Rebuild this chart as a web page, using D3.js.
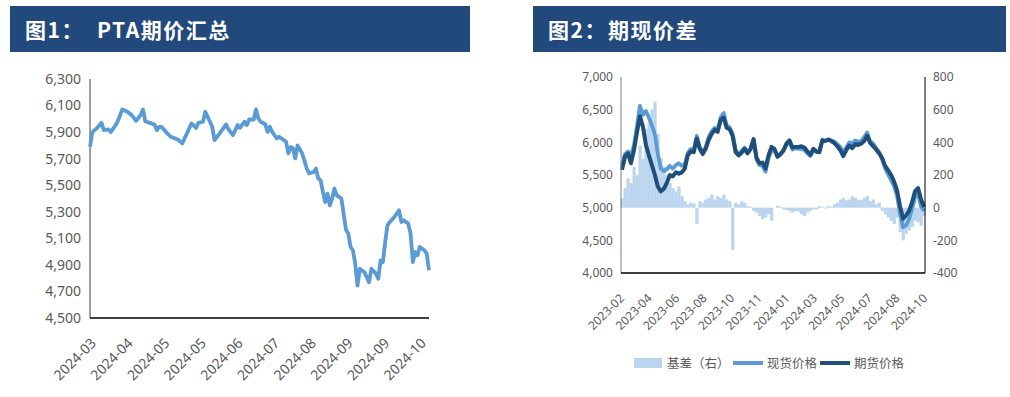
<html>
<head>
<meta charset="utf-8">
<title>PTA</title>
<style>
    body { margin: 0; background: #fff; }
    .tick-label { font-family: "Noto Sans", sans-serif; fill: #595959; }
    .cjk { font-family: "Noto Sans CJK SC", sans-serif; }
</style>
<script src="https://cdn.jsdelivr.net/npm/d3@7"></script>
</head>
<body>
<div id="main"></div>
<script>
// ---- chart 1: PTA futures price (trading-day index, price)
let ptaDays = [0, 1, 3, 5, 6, 8, 9, 11, 12, 14, 16, 18, 20, 22, 23, 24, 26, 28, 29, 30,
    31, 33, 35, 37, 38, 40, 42, 44, 46, 47, 49, 50, 52, 53, 54, 56, 59, 60, 62, 64,
    65, 67, 68, 69, 71, 72, 73, 74, 76, 77, 78, 79, 81, 82, 85, 86, 87, 88, 89, 90,
    92, 94, 95, 97, 98, 99, 100, 101, 102, 103, 104, 105, 106, 107, 109, 111, 112, 113, 114, 115,
    116, 117, 119, 120, 121, 122, 124, 125, 126, 127, 128, 129, 130, 132, 134, 135, 136, 138, 139, 140,
    141, 142, 143, 145, 146, 147]
let ptaPrices = [5790, 5900, 5930, 5970, 5915, 5920, 5900, 5950, 5980, 6070, 6055, 6030, 5985, 6030, 6070, 5980, 5970, 5955, 5915, 5940,
    5940, 5900, 5865, 5852, 5845, 5815, 5890, 5965, 5932, 5970, 5978, 6053, 5978, 5940, 5840, 5885, 5958, 5923, 5877, 5953,
    5932, 5978, 5953, 5995, 5995, 6071, 6003, 5978, 5960, 5902, 5940, 5902, 5852, 5865, 5827, 5740, 5787, 5778, 5702, 5800,
    5740, 5626, 5588, 5600, 5626, 5550, 5537, 5450, 5374, 5437, 5349, 5400, 5475, 5424, 5400, 5165, 5136, 5035, 5010, 4910,
    4745, 4871, 4845, 4808, 4770, 4871, 4834, 4796, 4934, 4921, 5072, 5198, 5223, 5261, 5311, 5223, 5236, 5211, 5136, 4921,
    4997, 4972, 5035, 5010, 4985, 4860]
let ptaTotalDays = 147
let ptaMonthLabels = ["2024-03", "2024-04", "2024-05", "2024-05", "2024-06", "2024-07", "2024-08", "2024-09", "2024-09", "2024-10"]
let ptaYTicks = [4500, 4700, 4900, 5100, 5300, 5500, 5700, 5900, 6100, 6300]

// ---- chart 2: spot / futures / basis (evenly spaced samples)
let futuresPrice = [5580, 5780, 5830, 5680, 5880, 6150, 6400, 6240, 5960, 5800,
    5650, 5500, 5320, 5250, 5290, 5380, 5500, 5480, 5540, 5520,
    5540, 5600, 5800, 5860, 5850, 6060, 5900, 5820, 5900, 6040,
    6130, 6190, 6160, 6340, 6380, 6220, 6200, 6100, 5850, 5800,
    5840, 5900, 5830, 5900, 6050, 5760, 5680, 5690, 5600, 5800,
    5930, 5900, 5780, 5820, 5880, 5980, 6030, 5920, 5930, 5930,
    5940, 5920, 5860, 5810, 5900, 5860, 5850, 6030, 6020, 6040,
    6020, 5990, 5940, 5880, 5790, 5880, 5950, 5910, 5970, 5960,
    5980, 6020, 6100, 5990, 5940, 5890, 5830, 5760, 5640, 5570,
    5500, 5400, 5260, 5020, 4830, 4880, 4950, 5080, 5250, 5300,
    5130, 5010]
let spotPrice = [5650, 5820, 5860, 5800, 5950, 6250, 6560, 6420, 6480, 6380,
    6260, 6120, 5820, 5600, 5560, 5590, 5640, 5600, 5650, 5680,
    5640, 5660, 5840, 5900, 5880, 6100, 5930, 5850, 5930, 6080,
    6170, 6220, 6200, 6380, 6450, 6260, 6230, 6130, 5880, 5830,
    5870, 5920, 5850, 5900, 6040, 5740, 5650, 5640, 5550, 5760,
    5870, 5880, 5780, 5810, 5870, 5960, 6010, 5890, 5910, 5900,
    5900, 5880, 5830, 5790, 5890, 5850, 5860, 6040, 6020, 6050,
    6030, 6010, 5970, 5930, 5850, 5920, 6000, 5980, 6030, 6010,
    6020, 6080, 6150, 6020, 5980, 5910, 5850, 5740, 5600, 5510,
    5420, 5330, 5180, 4900, 4700, 4730, 4820, 4980, 5160, 5210,
    5020, 4950]
let basisValues = [60, 120, 180, 150, 250, 200, 380, 300, 480, 520,
    600, 650, 450, 300, 250, 200, 150, 120, 100, 130,
    70, 40, 20, 30, 25, -100, 40, 30, 50, 60,
    80, 50, 70, 60, 80, 50, 40, -260, 30, 20,
    40, 30, 10, 5, -20, -30, -50, -70, -60, -40,
    -80, 0, 10, 5, -10, -15, -20, -30, -20, -25,
    -40, -50, -30, -20, -10, -10, 10, 5, -5, 10,
    5, 20, 30, 50, 60, 45, 50, 70, 60, 50,
    45, 60, 70, 40, 50, 20, 30, -20, -40, -60,
    -80, -100, -60, -150, -200, -160, -140, -120, -80, -90,
    -110, -50]
let basisMonthLabels = ["2023-02", "2023-04", "2023-06", "2023-08", "2023-10", "2023-11",
    "2024-01", "2024-03", "2024-05", "2024-07", "2024-08", "2024-10"]
let priceTicks = [4000, 4500, 5000, 5500, 6000, 6500, 7000]
let basisTicks = [-400, -200, 0, 200, 400, 600, 800]
let legendNames = ["基差（右）", "现货价格", "期货价格"]

const HEADER = "#21497c"
const LIGHT = "#5b9bd5"
const DARK = "#1f4e79"
const BASIS = "#bcd5ee"

let svg = d3.select("#main").append("svg")
    .attr("width", 1010)
    .attr("height", 397)

function drawHeader(x0, x1, parts) {
    svg.append("rect")
        .attr("x", x0).attr("y", 6)
        .attr("width", x1 - x0).attr("height", 46)
        .attr("fill", HEADER)
    parts.forEach(p => {
        svg.append("text")
            .attr("class", "cjk")
            .attr("x", p.x).attr("y", 38)
            .attr("fill", "#fff")
            .attr("font-size", 21)
            .attr("font-weight", "bold")
            .attr("letter-spacing", 1.5)
            .text(p.t)
    })
}

function drawLeftChart() {
    let left = 90, right = 429, top = 79, bottom = 318
    let x = d3.scaleLinear().domain([0, ptaTotalDays]).range([left, right])
    let y = d3.scaleLinear().domain([4500, 6300]).range([bottom, top])
    let g = svg.append("g")

    g.append("line").attr("x1", left).attr("x2", left).attr("y1", top).attr("y2", bottom)
        .attr("stroke", "#404040").attr("stroke-width", 1)
    g.append("line").attr("x1", left).attr("x2", right).attr("y1", bottom).attr("y2", bottom)
        .attr("stroke", "#000").attr("stroke-width", 1.5)

    g.selectAll(".ylab").data(ptaYTicks).enter().append("text")
        .attr("class", "tick-label")
        .attr("x", 81).attr("y", d => y(d))
        .attr("dy", "0.35em")
        .attr("text-anchor", "end")
        .attr("font-size", 14)
        .text(d => d3.format(",")(d))

    let lab = d3.scalePoint().domain(d3.range(ptaMonthLabels.length)).range([97, 427])
    g.selectAll(".xlab").data(ptaMonthLabels).enter().append("text")
        .attr("class", "tick-label")
        .attr("font-size", 14)
        .attr("text-anchor", "end")
        .attr("transform", (d, i) => "translate(" + lab(i) + ",344) rotate(-45)")
        .text(d => d)

    let pts = ptaDays.map((d, i) => [d, ptaPrices[i]])
    g.append("path")
        .datum(pts)
        .attr("fill", "none")
        .attr("stroke", LIGHT)
        .attr("stroke-width", 3.8)
        .attr("stroke-linejoin", "round")
        .attr("d", d3.line().x(d => x(d[0])).y(d => y(d[1])))
}

function drawRightChart() {
    let left = 621, right = 925, top = 77, bottom = 273
    let n = futuresPrice.length
    let x = d3.scaleLinear().domain([0, n - 1]).range([left + 1, right - 1])
    let y = d3.scaleLinear().domain([4000, 7000]).range([bottom, top])
    let y2 = d3.scaleLinear().domain([-400, 800]).range([bottom, top])
    let g = svg.append("g")
    let bw = (right - left) / n

    g.selectAll(".basis").data(basisValues).enter().append("rect")
        .attr("x", (d, i) => x(i) - bw / 2)
        .attr("width", bw + 0.3)
        .attr("y", d => Math.min(y2(d), y2(0)))
        .attr("height", d => Math.abs(y2(d) - y2(0)))
        .attr("fill", BASIS)

    let line = d3.line().x((d, i) => x(i)).y(d => y(d))
    g.append("path").datum(spotPrice)
        .attr("fill", "none").attr("stroke", LIGHT).attr("stroke-width", 3.8)
        .attr("stroke-linejoin", "round").attr("d", line)
    g.append("path").datum(futuresPrice)
        .attr("fill", "none").attr("stroke", DARK).attr("stroke-width", 4)
        .attr("stroke-linejoin", "round").attr("d", line)

    g.append("line").attr("x1", left).attr("x2", left).attr("y1", top).attr("y2", bottom)
        .attr("stroke", "#7f7f7f").attr("stroke-width", 1)
    g.append("line").attr("x1", right).attr("x2", right).attr("y1", top).attr("y2", bottom)
        .attr("stroke", "#000").attr("stroke-width", 1)
    g.append("line").attr("x1", left).attr("x2", right).attr("y1", bottom).attr("y2", bottom)
        .attr("stroke", "#000").attr("stroke-width", 1.5)

    g.selectAll(".ylab").data(priceTicks).enter().append("text")
        .attr("class", "tick-label")
        .attr("x", 613).attr("y", d => y(d)).attr("dy", "0.35em")
        .attr("text-anchor", "end").attr("font-size", 12)
        .text(d => d3.format(",")(d))
    g.selectAll(".y2lab").data(basisTicks).enter().append("text")
        .attr("class", "tick-label")
        .attr("x", 933).attr("y", d => y2(d)).attr("dy", "0.35em")
        .attr("text-anchor", "start").attr("font-size", 12)
        .text(d => d)

    let lab = d3.scalePoint().domain(d3.range(basisMonthLabels.length)).range([625, 928])
    g.selectAll(".xlab").data(basisMonthLabels).enter().append("text")
        .attr("class", "tick-label")
        .attr("font-size", 12)
        .attr("text-anchor", "end")
        .attr("transform", (d, i) => "translate(" + lab(i) + ",299) rotate(-45)")
        .text(d => d)

    // legend
    let lg = g.append("g").attr("transform", "translate(0,363)")
    lg.append("rect").attr("x", 634).attr("y", -5).attr("width", 28).attr("height", 10).attr("fill", BASIS)
    lg.append("line").attr("x1", 733).attr("x2", 763).attr("stroke", LIGHT).attr("stroke-width", 4)
    lg.append("line").attr("x1", 820).attr("x2", 850).attr("stroke", DARK).attr("stroke-width", 4)
    let lx = [667, 767, 854]
    legendNames.forEach((t, i) => {
        lg.append("text").attr("class", "cjk")
            .attr("x", lx[i]).attr("y", 0).attr("dy", "0.36em")
            .attr("font-size", 12.5).attr("fill", "#595959")
            .text(t)
    })
}

drawHeader(10, 470, [{ x: 25, t: "图1：" }, { x: 97, t: "PTA期价汇总" }])
drawHeader(533, 1006, [{ x: 548, t: "图2：" }, { x: 608, t: "期现价差" }])
drawLeftChart()
drawRightChart()
</script>
</body>
</html>
